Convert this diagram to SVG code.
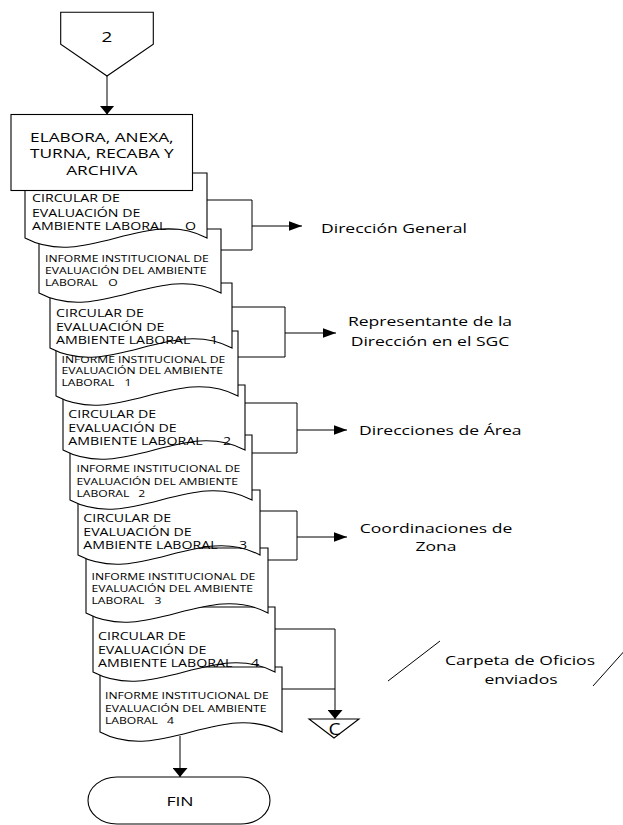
<svg xmlns="http://www.w3.org/2000/svg" width="623" height="825" viewBox="0 0 623 825">
  <style>
    .shape { fill: #fff; stroke: #000; stroke-width: 1.1; }
    .ln { fill: none; stroke: #000; stroke-width: 1; }
    text { font-family: "Open Sans", "Liberation Sans", sans-serif; fill: #000; }
    .c { font-size: 10.5px; }
    .i { font-size: 9px; }
    .b { font-size: 12.8px; }
    .r { font-size: 13px; }
    .m { text-anchor: middle; }
  </style>
  <defs>
    <marker id="ah-down" markerUnits="userSpaceOnUse" viewBox="0 0 15 9" markerWidth="15" markerHeight="9" refX="7.5" refY="9" orient="0">
      <path d="M0,0 L15,0 L7.5,9 Z" fill="#000"/>
    </marker>
    <marker id="ah-right" markerUnits="userSpaceOnUse" viewBox="0 0 13.5 10" markerWidth="13.5" markerHeight="10" refX="13.5" refY="5" orient="0">
      <path d="M0,0 L13.5,5 L0,10 Z" fill="#000"/>
    </marker>
  </defs>

  <!-- off-page connector "2" -->
  <g id="conn-2">
    <path class="shape" d="M60.7,12.3 H153.3 V44.3 L107,76 L60.7,44.3 Z"/>
    <text class="b m" transform="translate(107,41.5) scale(1.35,1)" style="font-size:14px">2</text>
  </g>

  <!-- connectors -->
  <g id="connectors">
    <path class="ln" d="M107,76 V114.5" marker-end="url(#ah-down)"/>
    <!-- to Dirección General -->
    <path class="ln" d="M207,200 H252 V250 H221"/>
    <path class="ln" d="M252,226 H302" marker-end="url(#ah-right)"/>
    <!-- to Representante de la Dirección -->
    <path class="ln" d="M232,307 H285 V357 H238"/>
    <path class="ln" d="M285,333 H336" marker-end="url(#ah-right)"/>
    <!-- to Direcciones de Área -->
    <path class="ln" d="M245,403 H297 V453 H252"/>
    <path class="ln" d="M297,430 H347" marker-end="url(#ah-right)"/>
    <!-- to Coordinaciones de Zona -->
    <path class="ln" d="M260,511 H297 V560 H268"/>
    <path class="ln" d="M297,537 H347" marker-end="url(#ah-right)"/>
    <!-- to archive connector C -->
    <path class="ln" d="M275,629 H335 M282,689 H335 M335,629 V719" marker-end="url(#ah-down)"/>
    <!-- to FIN -->
    <path class="ln" d="M180,736 V777" marker-end="url(#ah-down)"/>
    <!-- folder annotation strokes -->
    <path class="ln" d="M388,681 L440,641 M593,686 L627,648"/>
  </g>

  <!-- documents, drawn last-to-first so earlier sheets lie on top -->
  <g id="doc-informe-4">
    <path class="shape" d="M100,667 H282 V732 C221.3,700 160.7,764 100,732 Z"/>
    <text class="i" transform="translate(105,699) scale(1.35,1)">INFORME INSTITUCIONAL DE</text>
    <text class="i" transform="translate(105,711.5) scale(1.35,1)">EVALUACIÓN DEL AMBIENTE</text>
    <text class="i" transform="translate(105,724) scale(1.35,1)">LABORAL</text>
    <text class="i m" transform="translate(170.5,724) scale(1.35,1)">4</text>
  </g>
  <g id="doc-circular-4">
    <path class="shape" d="M93,607 H275 V672 C214.3,640 153.7,704 93,672 Z"/>
    <text class="c" transform="translate(98,640) scale(1.35,1)">CIRCULAR DE</text>
    <text class="c" transform="translate(98,654) scale(1.35,1)">EVALUACIÓN DE</text>
    <text class="c" transform="translate(98,667) scale(1.35,1)">AMBIENTE LABORAL</text>
    <text class="c m" transform="translate(255,667) scale(1.35,1)">4</text>
  </g>
  <g id="doc-informe-3">
    <path class="shape" d="M86,548 H268 V613 C207.3,581 146.7,645 86,613 Z"/>
    <text class="i" transform="translate(91.5,580) scale(1.35,1)">INFORME INSTITUCIONAL DE</text>
    <text class="i" transform="translate(91.5,591.5) scale(1.35,1)">EVALUACIÓN DEL AMBIENTE</text>
    <text class="i" transform="translate(91.5,603.5) scale(1.35,1)">LABORAL</text>
    <text class="i m" transform="translate(158,603.5) scale(1.35,1)">3</text>
  </g>
  <g id="doc-circular-3">
    <path class="shape" d="M78,490 H260 V555 C199.3,523 138.7,587 78,555 Z"/>
    <text class="c" transform="translate(83.3,521.5) scale(1.35,1)">CIRCULAR DE</text>
    <text class="c" transform="translate(83.3,535.5) scale(1.35,1)">EVALUACIÓN DE</text>
    <text class="c" transform="translate(83.3,549) scale(1.35,1)">AMBIENTE LABORAL</text>
    <text class="c m" transform="translate(243,549) scale(1.35,1)">3</text>
  </g>
  <g id="doc-informe-2">
    <path class="shape" d="M70,435 H252 V500 C191.3,468 130.7,532 70,500 Z"/>
    <text class="i" transform="translate(76.5,472) scale(1.35,1)">INFORME INSTITUCIONAL DE</text>
    <text class="i" transform="translate(76.5,484.5) scale(1.35,1)">EVALUACIÓN DEL AMBIENTE</text>
    <text class="i" transform="translate(76.5,497) scale(1.35,1)">LABORAL</text>
    <text class="i m" transform="translate(141.7,497) scale(1.35,1)">2</text>
  </g>
  <g id="doc-circular-2">
    <path class="shape" d="M63,385 H245 V450 C184.3,418 123.7,482 63,450 Z"/>
    <text class="c" transform="translate(68.3,417.5) scale(1.35,1)">CIRCULAR DE</text>
    <text class="c" transform="translate(68.3,431.5) scale(1.35,1)">EVALUACIÓN DE</text>
    <text class="c" transform="translate(68.3,445) scale(1.35,1)">AMBIENTE LABORAL</text>
    <text class="c m" transform="translate(227,445) scale(1.35,1)">2</text>
  </g>
  <g id="doc-informe-1">
    <path class="shape" d="M56,331 H238 V396 C177.3,364 116.7,428 56,396 Z"/>
    <text class="i" transform="translate(61.5,362.7) scale(1.35,1)">INFORME INSTITUCIONAL DE</text>
    <text class="i" transform="translate(61.5,374) scale(1.35,1)">EVALUACIÓN DEL AMBIENTE</text>
    <text class="i" transform="translate(61.5,386) scale(1.35,1)">LABORAL</text>
    <text class="i m" transform="translate(128,386) scale(1.35,1)">1</text>
  </g>
  <g id="doc-circular-1">
    <path class="shape" d="M50,283 H232 V348 C171.3,316 110.7,380 50,348 Z"/>
    <text class="c" transform="translate(56,316.5) scale(1.35,1)">CIRCULAR DE</text>
    <text class="c" transform="translate(56,330.5) scale(1.35,1)">EVALUACIÓN DE</text>
    <text class="c" transform="translate(56,344) scale(1.35,1)">AMBIENTE LABORAL</text>
    <text class="c m" transform="translate(214,344) scale(1.35,1)">1</text>
  </g>
  <g id="doc-informe-0">
    <path class="shape" d="M39,229 H221 V293 C160.3,261 99.7,325 39,293 Z"/>
    <text class="i" transform="translate(45,262) scale(1.35,1)">INFORME INSTITUCIONAL DE</text>
    <text class="i" transform="translate(45,274) scale(1.35,1)">EVALUACIÓN DEL AMBIENTE</text>
    <text class="i" transform="translate(45,285.5) scale(1.35,1)">LABORAL</text>
    <text class="i m" transform="translate(113,285.5) scale(1.35,1)">O</text>
  </g>
  <g id="doc-circular-0">
    <path class="shape" d="M25,173 H207 V238 C146.3,206 85.7,270 25,238 Z"/>
    <text class="c" transform="translate(32,201.7) scale(1.35,1)">CIRCULAR DE</text>
    <text class="c" transform="translate(32,216.5) scale(1.35,1)">EVALUACIÓN DE</text>
    <text class="c" transform="translate(32,230) scale(1.35,1)">AMBIENTE LABORAL</text>
    <text class="c m" transform="translate(190.5,230) scale(1.35,1)">O</text>
  </g>

  <!-- process box -->
  <g id="process-elabora">
    <rect class="shape" x="11" y="114.5" width="181.5" height="76"/>
    <text class="b m" transform="translate(101.8,141.5) scale(1.35,1)">ELABORA, ANEXA,</text>
    <text class="b m" transform="translate(101.8,158) scale(1.35,1)">TURNA, RECABA Y</text>
    <text class="b m" transform="translate(101.8,174.5) scale(1.35,1)">ARCHIVA</text>
  </g>

  <!-- recipients -->
  <g id="dest-direccion-general">
    <text class="r" transform="translate(321,232.5) scale(1.35,1)">Dirección General</text>
  </g>
  <g id="dest-representante">
    <text class="r m" transform="translate(430,326) scale(1.35,1)">Representante de la</text>
    <text class="r m" transform="translate(430,346) scale(1.35,1)">Dirección en el SGC</text>
  </g>
  <g id="dest-direcciones-area">
    <text class="r" transform="translate(359,435) scale(1.35,1)">Direcciones de Área</text>
  </g>
  <g id="dest-coordinaciones">
    <text class="r m" transform="translate(436,533) scale(1.35,1)">Coordinaciones de</text>
    <text class="r m" transform="translate(436,551) scale(1.35,1)">Zona</text>
  </g>
  <g id="note-carpeta">
    <text class="r m" transform="translate(520,664.5) scale(1.35,1)">Carpeta de Oficios</text>
    <text class="r m" transform="translate(521,683.5) scale(1.35,1)">enviados</text>
  </g>

  <!-- archive connector C -->
  <g id="conn-c">
    <path class="shape" d="M309,719 H359 L334,738 Z"/>
    <text class="r m" transform="translate(334.5,735) scale(1.2,1)" style="font-size:16px">C</text>
  </g>

  <!-- terminator -->
  <g id="fin">
    <path class="shape" d="M117,777 H241 A29,23.5 0 0 1 241,824 H117 A29,23.5 0 0 1 117,777 Z"/>
    <text class="r m" transform="translate(180,806) scale(1.35,1)">FIN</text>
  </g>
</svg>
